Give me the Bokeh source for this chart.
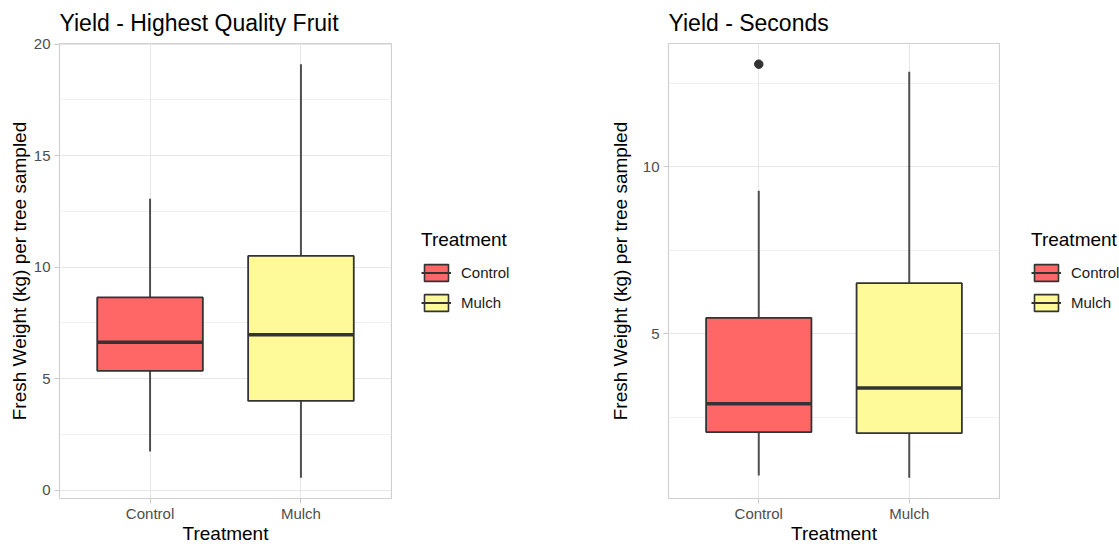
from bokeh.plotting import figure
from bokeh.models import (ColumnDataSource, FactorRange, Range1d, FixedTicker,
                          Legend, LegendItem)
from bokeh.transform import dodge
from bokeh.layouts import row
from bokeh.embed import file_html
from bokeh.resources import INLINE

# ---------------- data ----------------
categories = ["Control", "Mulch"]

hq_lower = [1.73, 0.55]
hq_q1 = [5.35, 4.00]
hq_median = [6.63, 6.97]
hq_q3 = [8.64, 10.50]
hq_upper = [13.06, 19.10]
hq_outlier_cat = []
hq_outlier_val = []

sec_lower = [0.75, 0.68]
sec_q1 = [2.05, 2.02]
sec_median = [2.90, 3.37]
sec_q3 = [5.47, 6.51]
sec_upper = [9.28, 12.84]
sec_outlier_cat = ["Control"]
sec_outlier_val = [13.07]

y_ticks = [0, 5, 10, 15, 20]
y_minor_ticks = [2.5, 7.5, 12.5, 17.5]

# ---------------- style ----------------
FILL = ["#FF6666", "#FFFA99"]
DARK = "#333333"
FONT = "Liberation Sans"
FIG_H = 546
TOP = 41


def make_panel(title, lower, q1, median, q3, upper, out_cat, out_val,
               width, left_border, ylab_standoff, leg_width, leg_margin):
    src = ColumnDataSource(dict(cat=categories, lower=lower, q1=q1,
                                median=median, q3=q3, upper=upper, color=FILL))
    vals = lower + upper + out_val
    lo, hi = min(vals), max(vals)
    pad = 0.05 * (hi - lo)
    p = figure(width=width, height=FIG_H,
               x_range=FactorRange(factors=categories, range_padding=0.1),
               y_range=Range1d(lo - pad, hi + pad),
               output_backend="svg", toolbar_location=None,
               min_border_left=left_border, min_border_right=1,
               min_border_top=TOP, min_border_bottom=0)
    p.background_fill_color = "white"
    p.border_fill_color = "white"
    p.outline_line_color = "#d0d0d0"
    p.outline_line_width = 1.2

    # title
    p.title.text = title
    p.title.text_font = FONT
    p.title.text_font_size = "23px"
    p.title.text_font_style = "normal"
    p.title.text_color = "#000000"
    p.title.standoff = 15

    # grids
    p.yaxis.ticker = FixedTicker(ticks=y_ticks, minor_ticks=y_minor_ticks)
    p.ygrid.grid_line_color = "#e6e6e6"
    p.ygrid.grid_line_width = 1
    p.ygrid.minor_grid_line_color = "#f0f0f0"
    p.ygrid.minor_grid_line_width = 1
    p.xgrid.grid_line_color = "#e6e6e6"
    p.xgrid.grid_line_width = 1

    # axes
    for ax in (p.xaxis, p.yaxis):
        ax.axis_line_color = None
        ax.major_tick_line_color = "#c8c8c8"
        ax.major_tick_line_width = 1
        ax.major_tick_in = 0
        ax.major_tick_out = 5
        ax.minor_tick_in = 0
        ax.minor_tick_out = 0
        ax.major_label_text_font = FONT
        ax.major_label_text_font_size = "15px"
        ax.major_label_text_color = "#4d4d4d"
        ax.axis_label_text_font = FONT
        ax.axis_label_text_font_size = "19px"
        ax.axis_label_text_font_style = "normal"
        ax.axis_label_text_color = "#000000"
    p.xaxis.axis_label = "Treatment"
    p.xaxis.major_label_standoff = 1
    p.xaxis.axis_label_standoff = -2
    p.yaxis.axis_label = "Fresh Weight (kg) per tree sampled"
    p.yaxis.major_label_standoff = 4
    p.yaxis.axis_label_standoff = ylab_standoff

    # whiskers
    p.segment(x0="cat", y0="q3", x1="cat", y1="upper", source=src,
              line_color=DARK, line_width=2, line_alpha=0.85)
    p.segment(x0="cat", y0="q1", x1="cat", y1="lower", source=src,
              line_color=DARK, line_width=2, line_alpha=0.85)
    # boxes
    p.vbar(x="cat", width=0.7, bottom="q1", top="q3", source=src,
           fill_color="color", line_color=DARK, line_width=1.8)
    # medians
    p.segment(x0=dodge("cat", -0.35, range=p.x_range),
              x1=dodge("cat", 0.35, range=p.x_range),
              y0="median", y1="median", source=src,
              line_color=DARK, line_width=3.5)
    # outliers
    if out_val:
        p.scatter(x=out_cat, y=out_val, size=8.5, color=DARK)

    # ---- legend (own figure, to sit beside the panel) ----
    lf = figure(width=leg_width, height=FIG_H,
                x_range=FactorRange(factors=categories),
                y_range=Range1d(0, 1),
                output_backend="svg", toolbar_location=None,
                x_axis_location=None, y_axis_location=None,
                min_border_left=0, min_border_right=0,
                min_border_top=0, min_border_bottom=0)
    lf.grid.visible = False
    lf.outline_line_color = None
    lf.background_fill_color = "white"
    lf.border_fill_color = "white"
    lbox = lf.vbar(x="cat", width=0.7, bottom="q1", top="q3", source=src,
                   fill_color="color", line_color=DARK, line_width=1.6,
                   visible=False)
    lmed = lf.segment(x0="cat", x1="cat", y0="median", y1="median",
                      source=src, line_color=DARK, line_width=2,
                      visible=False)
    legend = Legend(
        items=[LegendItem(label=c, renderers=[lbox, lmed], index=i)
               for i, c in enumerate(categories)],
        title="Treatment", location="center_left",
        title_text_font=FONT, title_text_font_size="19px",
        title_text_font_style="normal", title_text_color="#000000",
        title_standoff=11,
        label_text_font=FONT, label_text_font_size="15px",
        label_text_color="#1a1a1a", label_standoff=10,
        glyph_width=30, glyph_height=21, spacing=9, padding=10,
        margin=leg_margin, inactive_fill_alpha=0,
        border_line_color=None, background_fill_alpha=0)
    lf.add_layout(legend)
    return p, lf


p1, l1 = make_panel("Yield - Highest Quality Fruit", hq_lower, hq_q1,
                    hq_median, hq_q3, hq_upper, hq_outlier_cat,
                    hq_outlier_val, width=392, left_border=59,
                    ylab_standoff=1, leg_width=168, leg_margin=29)
p2, l2 = make_panel("Yield - Seconds", sec_lower, sec_q1, sec_median,
                    sec_q3, sec_upper, sec_outlier_cat, sec_outlier_val,
                    width=440, left_border=108, ylab_standoff=9,
                    leg_width=119, leg_margin=31)

layout = row(p1, l1, p2, l2)
open("out.html", "w").write(file_html(layout, INLINE))
